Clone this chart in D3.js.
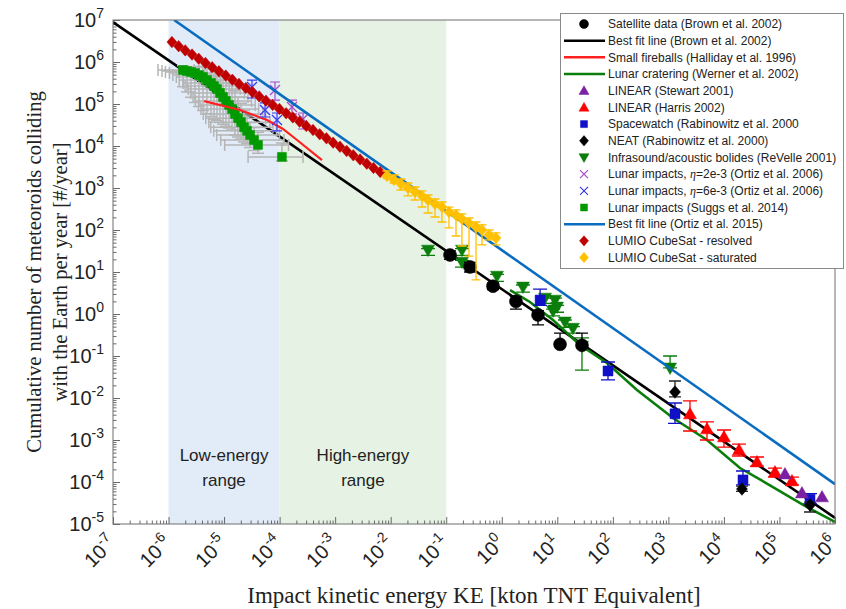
<!DOCTYPE html>
<html><head><meta charset="utf-8">
<script src="https://cdn.jsdelivr.net/npm/d3@7"></script>
<style>body{margin:0;background:#fff}svg{display:block}</style>
</head><body>
<svg id="c" width="846" height="609"></svg>
<script>
// ---------------- DATA ----------------
const xTickExp = [-7,-6,-5,-4,-3,-2,-1,0,1,2,3,4,5,6];
const yTickExp = [-5,-4,-3,-2,-1,0,1,2,3,4,5,6,7];

// Satellite data (Brown et al. 2002)
const satE  = [0.117,0.268,0.695,1.80,4.49,11.2,27.8];
const satN  = [25.4,13.2,4.6,2.0,0.95,0.19,0.18];
const satLo = [20,10,3.8,1.3,0.55,0.19,0.18];
const satHi = [32,17,5.5,2.6,1.2,0.35,0.35];

// Best fit lines
const brownFitE = [1e-7, 1e6];
const brownFitN = [8.9e6, 1.4e-5];
const ortizFitE = [1.26e-6, 1e6];
const ortizFitN = [1e7, 8.9e-5];

// Small fireballs (Halliday 1996)
const hallE = [4.37e-6,1.94e-5,5.93e-5,1.15e-4,2.06e-4,5.79e-4];
const hallN = [1.17e5,7.2e4,4.16e4,2.54e4,1.39e4,4.6e3];

// Lunar cratering (Werner 2002)
const wernE = [1.41,3.22,8.36,25.6,78.3,272,1211,4955,19450,76380,312600,1e6];
const wernN = [3.72,1.93,0.72,0.183,0.068,0.0155,3.34e-3,1.0e-3,2.15e-4,7.6e-5,2.54e-5,1.12e-5];

// LINEAR (Stewart 2001)
const stwE = [125600,254100,583400];
const stwN = [1.55e-4,5.47e-5,4.4e-5];

// LINEAR (Harris 2002)
const harE  = [2449,4955,10020,18660,39360,82990,167900];
const harN  = [4.16e-3,1.83e-3,1.18e-3,5.78e-4,2.99e-4,1.73e-4,1.06e-4];
const harLo = [1.64e-3,1.0e-3,6.8e-4,4.16e-4,2.40e-4,1.31e-4,8.5e-5];
const harHi = [8.5e-3,2.69e-3,1.73e-3,8.0e-4,3.94e-4,2.15e-4,1.31e-4];

// Spacewatch
const swE  = [4.9,81.8,1315,22030,355000];
const swN  = [2.15,0.044,0.0042,1.12e-4,3.9e-5];
const swLo = [1.6,0.027,0.0025,8.5e-5,3.0e-5];
const swHi = [3.9,0.072,0.0076,1.83e-4,5.3e-5];

// NEAT
const neatE  = [1315,21130,355000];
const neatN  = [0.0139,6.8e-5,2.83e-5];
const neatLo = [0.0106,6.0e-5,1.93e-5];
const neatHi = [0.0254,8.0e-5,3.3e-5];

// Infrasound / acoustic bolides (ReVelle 2001)
const infE  = [0.047,0.192,0.192,0.82,2.41,6.0,9.1,9.9,8.4,13.7,19.1,27.8,1072];
const infN  = [33.4,33.4,17.3,8.0,4.4,2.4,2.15,1.47,1.18,0.65,0.46,0.173,0.052];
const infLo = [25,25,13,6,3.3,1.8,1.6,1.1,0.9,0.48,0.35,0.046,0.052];
const infHi = [36,36,19,8.8,4.9,2.7,2.4,1.6,1.3,0.72,0.5,0.27,0.1];

// Lunar impacts eta=2e-3 / 6e-3 (Ortiz 2006)
const ort2E  = [8.26e-5,1.67e-4,2.64e-4];
const ort2N  = [2.15e5,8.5e4,4.4e4];
const ort2Lo = [1.24e5,5.8e4,2.54e4];
const ort2Hi = [3.34e5,1.24e5,6.1e4];
const ort6E  = [3.18e-5,5.46e-5,8.97e-5];
const ort6N  = [2.54e5,7.2e4,4.16e4];
const ort6Lo = [1.39e5,4.9e4,2.28e4];
const ort6Hi = [3.72e5,1.06e5,6.1e4];

// Lunar impacts (Suggs 2014) with error extents in decades
const sugE = [1.82e-6,2.15e-6,2.54e-6,2.99e-6,3.53e-6,4.17e-6,4.92e-6,5.81e-6,6.58e-6,7.46e-6,8.45e-6,9.58e-6,1.08e-5,1.23e-5,1.39e-5,1.57e-5,1.78e-5,2.02e-5,2.29e-5,2.59e-5,2.93e-5,3.46e-5,4.08e-5,1.10e-4];
const sugN = [6.45e5,6.1e5,5.78e5,5.47e5,4.9e5,4.4e5,3.72e5,3.16e5,2.68e5,2.28e5,1.83e5,1.47e5,1.18e5,9.5e4,7.6e4,5.8e4,4.6e4,3.7e4,2.8e4,2.3e4,1.83e4,1.39e4,1.06e4,5.5e3];
const sugXneg = [0.45,0.45,0.46,0.46,0.47,0.48,0.5,0.5,0.52,0.52,0.53,0.54,0.55,0.55,0.56,0.57,0.58,0.58,0.6,0.6,0.6,0.6,0.6,0.61];
const sugXpos = [0.2,0.22,0.25,0.28,0.3,0.32,0.35,0.38,0.4,0.42,0.44,0.45,0.46,0.47,0.48,0.5,0.5,0.52,0.52,0.53,0.53,0.54,0.55,0.38];
const sugYneg = [0.4,0.5,0.6,0.7,0.75,0.8,0.8,0.8,0.8,0.75,0.7,0.65,0.6,0.55,0.5,0.5,0.45,0.4,0.35,0.3,0.3,0.25,0.2,0.1];
const sugYpos = [0.1,0.1,0.12,0.15,0.2,0.25,0.3,0.35,0.4,0.45,0.5,0.55,0.6,0.6,0.6,0.55,0.5,0.45,0.4,0.35,0.3,0.3,0.3,0.33];

// LUMIO CubeSat - resolved
const lumRE = [1.15e-6,1.52e-6,2.00e-6,2.65e-6,3.50e-6,4.62e-6,6.11e-6,8.07e-6,1.07e-5,1.41e-5,1.86e-5,2.46e-5,3.25e-5,4.30e-5,5.68e-5,7.50e-5,9.91e-5,1.31e-4,1.73e-4,2.29e-4,3.02e-4,3.99e-4,5.27e-4,6.97e-4,9.20e-4,1.22e-3,1.61e-3,2.12e-3,2.81e-3,3.71e-3,4.90e-3,6.47e-3];
const lumRN = [2.99e6,2.38e6,1.89e6,1.50e6,1.19e6,9.5e5,7.5e5,6.0e5,4.76e5,3.78e5,3.0e5,2.39e5,1.9e5,1.51e5,1.2e5,9.5e4,7.6e4,6.0e4,4.8e4,3.8e4,3.0e4,2.4e4,1.9e4,1.52e4,1.2e4,9.6e3,7.6e3,6.0e3,4.8e3,3.8e3,3.0e3,2.4e3];

// LUMIO CubeSat - saturated
const lumSE  = [8.57e-3,1.15e-2,1.53e-2,2.05e-2,2.74e-2,3.66e-2,4.70e-2,6.28e-2,8.39e-2,0.112,0.150,0.192,0.257,0.344,0.441,0.589,0.787];
const lumSN  = [1932,1549,1245,1000,803,646,518,416,353,268,228,183,147,118,100,76,64.6];
const lumSLo = [1730,1315,895,646,518,353,254,204,155,112,72,41.6,24,6.5,44,58,44];
const lumSHi = [2540,2040,1640,1315,1056,850,681,547,464,352,300,241,193,155,132,100,85];

const legendLabels = [
  "Satellite data (Brown et al. 2002)",
  "Best fit line (Brown et al. 2002)",
  "Small fireballs (Halliday et al. 1996)",
  "Lunar cratering (Werner et al. 2002)",
  "LINEAR (Stewart 2001)",
  "LINEAR (Harris 2002)",
  "Spacewatch (Rabinowitz et al. 2000",
  "NEAT (Rabinowitz et al. 2000)",
  "Infrasound/acoustic bolides (ReVelle 2001)",
  "Lunar impacts, |η|=2e-3 (Ortiz et al. 2006)",
  "Lunar impacts, |η|=6e-3 (Ortiz et al. 2006)",
  "Lunar impacts (Suggs et al. 2014)",
  "Best fit line (Ortiz et al. 2015)",
  "LUMIO CubeSat - resolved",
  "LUMIO CubeSat - saturated"
];

// ---------------- STYLE ----------------
const C = {
  black:"#000000", red:"#ff2020", green:"#0b7d0b", blue:"#0a6cc0",
  purple:"#7b1fa2", red2:"#ff0000", sw:"#1010c8", ort2:"#a64ac9", ort6:"#3a3af0",
  suggs:"#009a00", gray:"#b5b5b5", lumR:"#c00000", lumS:"#ffc000"
};

const plot = {left:113, right:835, top:20, bottom:524};
const svg = d3.select("#c");
const x = d3.scaleLog().domain([1e-7,1e6]).range([plot.left,plot.right]);
const y = d3.scaleLog().domain([1e-5,1e7]).range([plot.bottom,plot.top]);

svg.append("defs").append("clipPath").attr("id","clip")
  .append("rect").attr("x",plot.left).attr("y",plot.top)
  .attr("width",plot.right-plot.left).attr("height",plot.bottom-plot.top);

// shading
svg.append("rect").attr("x",x(1e-6)).attr("y",plot.top).attr("width",x(1e-4)-x(1e-6))
  .attr("height",plot.bottom-plot.top).attr("fill","#e2ecf9");
svg.append("rect").attr("x",x(1e-4)).attr("y",plot.top).attr("width",x(1e-1)-x(1e-4))
  .attr("height",plot.bottom-plot.top).attr("fill","#e6f3e4");

const rangeFont = "'Liberation Sans', Arial, sans-serif";
[["Low-energy","range",Math.sqrt(1e-6*1e-4)],["High-energy","range",Math.sqrt(1e-4*1e-1)]].forEach(r=>{
  const t = svg.append("text").attr("text-anchor","middle").attr("font-family",rangeFont)
    .attr("font-size",17).attr("fill","#222");
  t.append("tspan").attr("x",x(r[2])).attr("y",461).text(r[0]);
  t.append("tspan").attr("x",x(r[2])).attr("y",486).text(r[1]);
});

// axes ticks
const minorVals = [];
xTickExp.slice(0,-1).forEach(e=>{ for(let k=2;k<10;k++) minorVals.push(k*Math.pow(10,e)); });
const minorValsY = [];
yTickExp.slice(0,-1).forEach(e=>{ for(let k=2;k<10;k++) minorValsY.push(k*Math.pow(10,e)); });
const majX = xTickExp.map(e=>Math.pow(10,e));
const majY = yTickExp.map(e=>Math.pow(10,e));

function styleAxis(g){ g.select(".domain").remove(); g.selectAll("line").attr("stroke","#444").attr("stroke-width",0.8); }
svg.append("g").attr("transform",`translate(0,${plot.bottom})`)
  .call(d3.axisBottom(x).tickValues(minorVals).tickSize(-3.5).tickFormat("")).call(styleAxis);
svg.append("g").attr("transform",`translate(0,${plot.bottom})`)
  .call(d3.axisBottom(x).tickValues(majX).tickSize(-7).tickFormat("")).call(styleAxis);
svg.append("g").attr("transform",`translate(${plot.left},0)`)
  .call(d3.axisLeft(y).tickValues(minorValsY).tickSize(-3.5).tickFormat("")).call(styleAxis);
svg.append("g").attr("transform",`translate(${plot.left},0)`)
  .call(d3.axisLeft(y).tickValues(majY).tickSize(-7).tickFormat("")).call(styleAxis);

// tick labels
const tickFont = "'Liberation Sans', Arial, sans-serif";
yTickExp.forEach(e=>{
  const t = svg.append("text").attr("x",104).attr("y",y(Math.pow(10,e))+7)
    .attr("text-anchor","end").attr("font-family",tickFont).attr("font-size",20).attr("fill","#222");
  t.append("tspan").text("10");
  t.append("tspan").attr("dy",-9).attr("font-size",14).text(String(e));
});
xTickExp.forEach(e=>{
  const t = svg.append("text").attr("text-anchor","end")
    .attr("transform",`translate(${x(Math.pow(10,e))+4},${544}) rotate(-45)`)
    .attr("font-family",tickFont).attr("font-size",20).attr("fill","#222");
  t.append("tspan").text("10");
  t.append("tspan").attr("dy",-9).attr("font-size",14).text(String(e));
});

// axis titles
const serif = "'Liberation Serif','Times New Roman',serif";
svg.append("text").attr("x",(plot.left+plot.right)/2).attr("y",603).attr("text-anchor","middle")
  .attr("font-family",serif).attr("font-size",23).attr("fill","#222")
  .text("Impact kinetic energy KE [kton TNT Equivalent]");
const yt = svg.append("text").attr("transform",`translate(0,${(plot.top+plot.bottom)/2}) rotate(-90)`)
  .attr("text-anchor","middle").attr("font-family",serif).attr("font-size",20.6).attr("fill","#222");
yt.append("tspan").attr("x",0).attr("y",41).text("Cumulative number of meteoroids colliding");
yt.append("tspan").attr("x",0).attr("y",67).text("with the Earth per year [#/year]");

// ---------------- MARKS ----------------
const g = svg.append("g").attr("clip-path","url(#clip)");
const zip = (a,b)=>a.map((v,i)=>[v,b[i]]);
const line = d3.line().x(d=>x(d[0])).y(d=>y(d[1]));

function shape(type, s){
  const h=s/2;
  switch(type){
    case "circle": return `M${h},0A${h},${h} 0 1,1 ${-h},0A${h},${h} 0 1,1 ${h},0Z`;
    case "square": return `M${-h},${-h}H${h}V${h}H${-h}Z`;
    case "diamond": return `M0,${-h*1.15}L${h},0L0,${h*1.15}L${-h},0Z`;
    case "triUp": return `M0,${-h}L${h},${h*0.75}L${-h},${h*0.75}Z`;
    case "triDown": return `M0,${h}L${h},${-h*0.75}L${-h},${-h*0.75}Z`;
    case "x": return `M${-h},${-h}L${h},${h}M${-h},${h}L${h},${-h}`;
  }
}
function markers(sel, E, N, type, size, color){
  sel.append("g").selectAll("path").data(zip(E,N)).join("path")
    .attr("transform",d=>`translate(${x(d[0])},${y(d[1])})`)
    .attr("d",shape(type,size))
    .attr("fill", type==="x" ? "none" : color)
    .attr("stroke", color).attr("stroke-width", type==="x"?1.3:0.5);
}
function errV(sel, E, lo, hi, color, cap, sw){
  sel.append("g").selectAll("path").data(E.map((e,i)=>[e,lo[i],hi[i]])).join("path")
    .attr("d",d=>{const X=x(d[0]),a=y(d[1]),b=y(d[2]);
      return `M${X-cap},${a}H${X+cap}M${X},${a}V${b}M${X-cap},${b}H${X+cap}`;})
    .attr("fill","none").attr("stroke",color).attr("stroke-width",sw||1.2);
}

// Brown fit line
g.append("path").attr("d",line(zip(brownFitE,brownFitN))).attr("fill","none")
  .attr("stroke",C.black).attr("stroke-width",2.6);

// Suggs gray error bars
const sugG = g.append("g").attr("fill","none").attr("stroke",C.gray).attr("stroke-width",1.5);
sugE.forEach((e,i)=>{
  const X=x(e), Y=y(sugN[i]);
  const xl=x(e/Math.pow(10,sugXneg[i])), xr=x(e*Math.pow(10,sugXpos[i]));
  const yl=y(sugN[i]/Math.pow(10,sugYneg[i])), yh=y(sugN[i]*Math.pow(10,sugYpos[i]));
  sugG.append("path").attr("d",`M${xl},${Y}H${xr}M${xl},${Y-6}V${Y+6}M${xr},${Y-6}V${Y+6}M${X},${yh}V${yl}M${X-6},${yl}H${X+6}M${X-6},${yh}H${X+6}`);
});
markers(g, sugE, sugN, "square", 9, C.suggs);

// Halliday red line
g.append("path").attr("d",line(zip(hallE,hallN))).attr("fill","none")
  .attr("stroke",C.red).attr("stroke-width",2.2);

// Werner green line
g.append("path").attr("d",line(zip(wernE,wernN))).attr("fill","none")
  .attr("stroke",C.green).attr("stroke-width",2.6);

// Ortiz impacts
errV(g, ort6E, ort6Lo, ort6Hi, C.ort6, 5, 1.2);
markers(g, ort6E, ort6N, "x", 10, C.ort6);
errV(g, ort2E, ort2Lo, ort2Hi, C.ort2, 5, 1.2);
markers(g, ort2E, ort2N, "x", 10, C.ort2);

// Infrasound
errV(g, infE, infLo, infHi, C.green, 7, 1.3);
markers(g, infE, infN, "triDown", 13, C.green);

// Satellite
errV(g, satE, satLo, satHi, C.black, 6, 1.3);
markers(g, satE, satN, "circle", 13, C.black);

// Spacewatch
errV(g, swE, swLo, swHi, C.sw, 7, 1.3);
markers(g, swE, swN, "square", 10, C.sw);

// NEAT
errV(g, neatE, neatLo, neatHi, "#222", 6, 1.3);
markers(g, neatE, neatN, "diamond", 11, C.black);

// Harris
errV(g, harE, harLo, harHi, C.red2, 7, 1.3);
markers(g, harE, harN, "triUp", 13, C.red2);

// Stewart
markers(g, stwE, stwN, "triUp", 13, C.purple);

// Ortiz 2015 fit line
g.append("path").attr("d",line(zip(ortizFitE,ortizFitN))).attr("fill","none")
  .attr("stroke",C.blue).attr("stroke-width",2.6);

// LUMIO
markers(g, lumRE, lumRN, "diamond", 10, C.lumR);
errV(g, lumSE, lumSLo, lumSHi, C.lumS, 4.5, 1.3);
markers(g, lumSE, lumSN, "diamond", 10, C.lumS);

// frame
svg.append("rect").attr("x",plot.left).attr("y",plot.top).attr("width",plot.right-plot.left)
  .attr("height",plot.bottom-plot.top).attr("fill","none").attr("stroke","#6e6e6e").attr("stroke-width",1);

// ---------------- LEGEND ----------------
const lg = svg.append("g");
lg.append("rect").attr("x",560.5).attr("y",13.5).attr("width",283).attr("height",255)
  .attr("fill","#fff").attr("stroke","#8a8a8a").attr("stroke-width",1);
const legSym = [
  ["circle",C.black,9],["line",C.black],["line",C.red],["line",C.green],
  ["triUp",C.purple,10],["triUp",C.red2,10],["square",C.sw,7],["diamond",C.black,9],
  ["triDown",C.green,10],["x",C.ort2,8],["x",C.ort6,8],["square",C.suggs,7],
  ["line",C.blue],["diamond",C.lumR,9],["diamond",C.lumS,9]
];
legendLabels.forEach((lab,i)=>{
  const cy = 24 + i*16.68;
  const s = legSym[i];
  if(s[0]==="line"){
    lg.append("line").attr("x1",564).attr("x2",605).attr("y1",cy).attr("y2",cy)
      .attr("stroke",s[1]).attr("stroke-width",2.5);
  } else {
    lg.append("path").attr("transform",`translate(584,${cy})`).attr("d",shape(s[0],s[2]))
      .attr("fill",s[0]==="x"?"none":s[1]).attr("stroke",s[1]).attr("stroke-width",s[0]==="x"?1.2:0.5);
  }
  const t = lg.append("text").attr("x",608).attr("y",cy+4.3).attr("font-family",tickFont)
    .attr("font-size",12).attr("fill","#222");
  const parts = lab.split("|");
  if(parts.length===3){
    t.append("tspan").text(parts[0]);
    t.append("tspan").attr("font-family",serif).attr("font-style","italic").text(parts[1]);
    t.append("tspan").text(parts[2]);
  } else t.text(lab);
});
</script>
</body></html>
